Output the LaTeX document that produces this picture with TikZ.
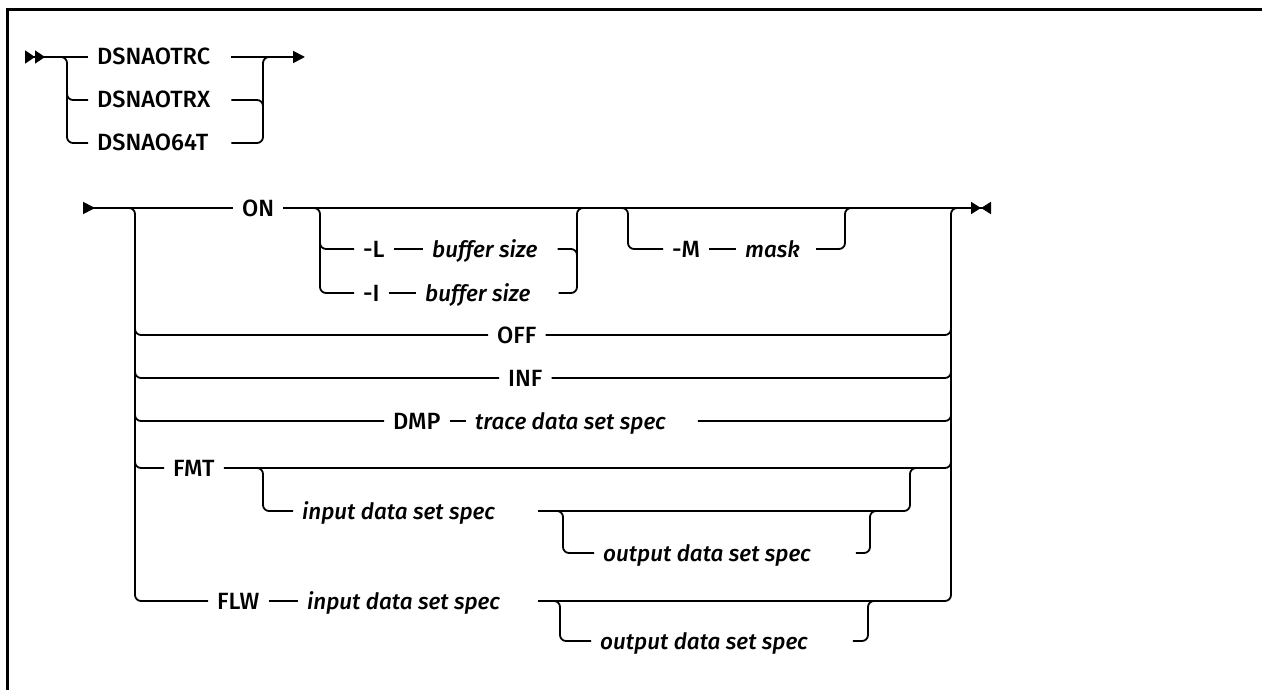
\documentclass[tikz,border=0pt]{standalone}
\usepackage{fontspec}
\setmainfont{Fira Sans}[UprightFont=* Medium, ItalicFont=* Medium Italic]
\usetikzlibrary{arrows.meta, positioning}

\begin{document}
\begin{tikzpicture}[
  x=1pt, y=-1pt,
  font=\fontsize{23.5}{28}\selectfont,
  keyword/.style={anchor=west, inner xsep=9pt, inner ysep=0pt, text height=16pt, text depth=0pt},
  varname/.style={keyword, font=\fontsize{22.5}{27}\selectfont\itshape},
  rail/.style={line width=1.8pt},
  branch/.style={rail, rounded corners=6pt}
]
\useasboundingbox (0,0) rectangle (1262,690);
\draw[line width=3pt] (7,700) -- (7,10) -- (1270,10);

% program name
\coordinate (begin) at (25,57);
\coordinate (nameend) at (305,57);
\node[keyword] (trc) at (88,57) {DSNAOTRC};
\node[keyword] (trx) at (88,100) {DSNAOTRX};
\node[keyword] (t64) at (88,143) {DSNAO64T};

\draw[rail, {Triangle[reversed, length=10pt, width=13pt] Triangle[reversed, length=10pt, width=13pt]}-] (begin) -- (trc.west);
\draw[branch] (60,57) -- (67,57) -- (67,143) -- (t64.west);
\draw[branch] (67,90) -- (67,100) -- (trx.west);
\draw[rail, -{Triangle[length=12pt, width=12pt]}] ([xshift=12pt]trc.east) -- (nameend);
\draw[branch] ([xshift=12pt]trx.east) -- (263,100) -- (263,110);
\draw[branch] ([xshift=14pt]t64.east) -- (263,143) -- (263,57) -- (270,57);

% main line
\coordinate (mainin) at (83,208);
\coordinate (mainend) at (991,208);
\node[keyword] (on) at (233,208) {ON};
\draw[rail, {Triangle[reversed, length=12pt, width=12pt]}-] (mainin) -- (on.west);
\draw[rail, -{Triangle[length=10pt, width=12pt] Triangle[reversed, length=10pt, width=12pt]}] (on.east) -- (mainend);

% -L / -I buffer size
\node[keyword] (optl) at (354,249) {-L};
\node[varname] (bufl) at (423,249) {buffer size};
\node[keyword] (opti) at (354,293) {-I};
\node[varname] (bufi) at (416,293) {buffer size};
\draw[branch] (313,208) -- (320,208) -- (320,293) -- (opti.west);
\draw[branch] (320,239) -- (320,249) -- (optl.west);
\draw[rail] (optl) -- (bufl);
\draw[rail] (opti) -- (bufi);
\draw[branch] ([xshift=11pt]bufl.east) -- (577,249) -- (577,259);
\draw[branch] ([xshift=19pt]bufi.east) -- (577,293) -- (577,208) -- (584,208);

% -M mask
\node[keyword] (optm) at (663,249) {-M};
\node[varname] (mask) at (736,249) {mask};
\draw[branch] (621,208) -- (628,208) -- (628,249) -- (optm.west);
\draw[rail] (optm) -- (mask);
\draw[branch] ([xshift=7pt]mask.east) -- (845,249) -- (845,208) -- (852,208);

% other functions
\node[keyword] (off) at (488,335) {OFF};
\node[keyword] (inf) at (499,378) {INF};
\node[keyword] (dmp) at (384,421) {DMP};
\node[varname] (trace) at (466,421) {trace data set spec};
\node[keyword] (fmt) at (164,468) {FMT};
\node[varname] (fmtin) at (293,511) {input data set spec};
\node[varname] (fmtout) at (594,553) {output data set spec};
\node[keyword] (flw) at (208,601) {FLW};
\node[varname] (flwin) at (298,601) {input data set spec};
\node[varname] (flwout) at (591,641) {output data set spec};

\draw[branch] (128,208) -- (135,208) -- (135,601) -- (flw.west);
\draw[branch] (135,325) -- (135,335) -- (off.west);
\draw[branch] (135,368) -- (135,378) -- (inf.west);
\draw[branch] (135,411) -- (135,421) -- (dmp.west);
\draw[branch] (135,458) -- (135,468) -- (fmt.west);

\draw[branch] (off.east) -- (951,335) -- (951,325);
\draw[branch] (inf.east) -- (951,378) -- (951,368);
\draw[rail] (dmp) -- (trace);
\draw[branch] ([xshift=23pt]trace.east) -- (951,421) -- (951,411);
\draw[branch] (fmt.east) -- (951,468) -- (951,458);

% FMT data sets
\draw[branch] (256,468) -- (263,468) -- (263,511) -- (fmtin.west);
\draw[branch] ([xshift=34pt]fmtin.east) -- (910,511) -- (910,468) -- (917,468);
\draw[branch] (556,511) -- (563,511) -- (563,553) -- (fmtout.west);
\draw[branch] ([xshift=36pt]fmtout.east) -- (870,553) -- (870,511) -- (877,511);

% FLW data sets
\draw[rail] (flw) -- (flwin);
\draw[branch] ([xshift=29pt]flwin.east) -- (951,601) -- (951,208) -- (958,208);
\draw[branch] (553,601) -- (560,601) -- (560,641) -- (flwout.west);
\draw[branch] ([xshift=36pt]flwout.east) -- (868,641) -- (868,601) -- (875,601);
\end{tikzpicture}
\end{document}
